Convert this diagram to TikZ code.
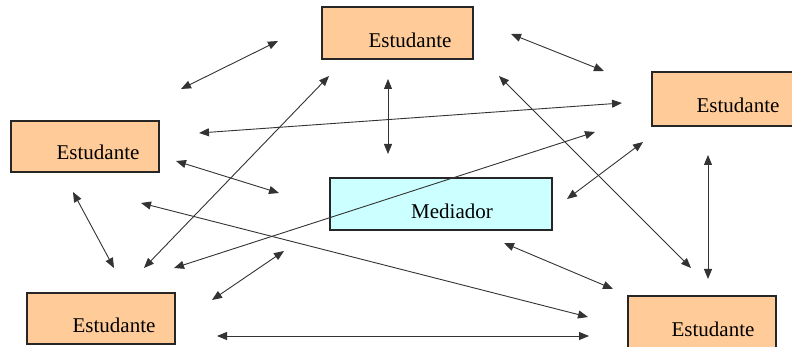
\documentclass[tikz,border=0pt]{standalone}
\usepackage{fontspec}
\setmainfont{Liberation Serif}
\usetikzlibrary{arrows.meta}
\definecolor{peach}{HTML}{FFCC99}
\definecolor{aqua}{HTML}{CCFFFF}
\tikzset{
  stbox/.style={draw=black!85, line width=1.2pt, fill=peach, inner sep=0pt},
  medbox/.style={stbox, fill=aqua},
  lbl/.style={inner sep=0pt, font=\fontsize{21}{23}\selectfont},
  link/.style={draw=black!80, line width=0.9pt,
    {Triangle[length=10pt,width=8pt]}-{Triangle[length=10pt,width=8pt]}}
}
\begin{document}
\begin{tikzpicture}[x=1pt, y=-1pt]
\useasboundingbox (0,0) rectangle (792,347);
\clip (0,0) rectangle (792,347);
\fill[white] (0,0) rectangle (792,347);

% boxes
\node[stbox, minimum width=151pt, minimum height=52pt] (sT) at (397.5,33) {};
\node[stbox, minimum width=150pt, minimum height=54pt] (sR) at (727,99) {};
\node[stbox, minimum width=148pt, minimum height=51pt] (sL) at (85,146.5) {};
\node[medbox, minimum width=222pt, minimum height=52pt] (med) at (441,204) {};
\node[stbox, minimum width=148pt, minimum height=51pt] (sBL) at (101,318.5) {};
\node[stbox, minimum width=148pt, minimum height=62pt] (sBR) at (702,327) {};

% labels
\node[lbl] (tT) at (410,40) {Estudante};
\node[lbl] (tR) at (738,105) {Estudante};
\node[lbl] (tL) at (98,152) {Estudante};
\node[lbl] (tM) at (452,211) {Mediador};
\node[lbl] (tBL) at (114,325) {Estudante};
\node[lbl] (tBR) at (713,329) {Estudante};

% connector end points
\coordinate (a1) at (181,89);  \coordinate (b1) at (278,41);
\coordinate (a2) at (511,34);  \coordinate (b2) at (604,71);
\coordinate (a3) at (388,79);  \coordinate (b3) at (388,154);
\coordinate (a4) at (199,133); \coordinate (b4) at (622,103);
\coordinate (a5) at (144,268); \coordinate (b5) at (329,76);
\coordinate (a6) at (176,161); \coordinate (b6) at (279,193);
\coordinate (a7) at (73,192);  \coordinate (b7) at (114,268);
\coordinate (a8) at (141,203); \coordinate (b8) at (588,317);
\coordinate (a9) at (174,268); \coordinate (b9) at (595,132);
\coordinate (a10) at (499,76); \coordinate (b10) at (691,268);
\coordinate (a11) at (567,199); \coordinate (b11) at (643,142);
\coordinate (a12) at (708,155); \coordinate (b12) at (708,279);
\coordinate (a13) at (504,243); \coordinate (b13) at (613,289);
\coordinate (a14) at (212,300); \coordinate (b14) at (284,251);
\coordinate (a15) at (217,336); \coordinate (b15) at (589,336);

% connectors
\foreach \i in {1,...,15} {
  \draw[link] (a\i) -- (b\i);
}
\end{tikzpicture}
\end{document}
